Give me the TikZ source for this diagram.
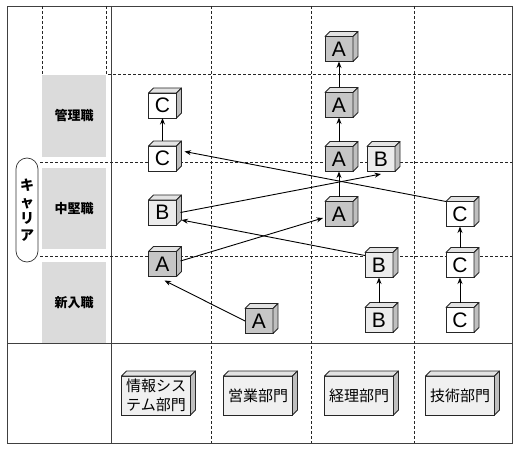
\documentclass[tikz,border=0pt]{standalone}
\usepackage{fontspec}
\setsansfont{Liberation Sans}
\newfontfamily\jp{Noto Sans CJK JP}
\usetikzlibrary{arrows.meta,positioning,calc}

% front face as a node, top and side faces drawn on it
\newcommand{\cubebox}[4]{%
  \node[box, #3] (#1) at (#2) {#4};
  \filldraw[boxtop] (#1.north west) -- ([shift={(5,-5)}]#1.north west) -- ([shift={(5,-5)}]#1.north east) -- (#1.north east) -- cycle;
  \filldraw[boxside] (#1.north east) -- ([shift={(5,-5)}]#1.north east) -- ([shift={(5,-5)}]#1.south east) -- (#1.south east) -- cycle;
}

\begin{document}
\begin{tikzpicture}[x=1pt, y=-1pt,
    frame/.style={draw=black!75, line width=0.9pt},
    grid/.style={draw=black!85, line width=0.65pt, dash pattern=on 3pt off 2pt},
    level/.style={fill=gray!28, minimum width=64pt, inner sep=0pt, font=\jp\bfseries\fontsize{13}{15}\selectfont},
    box/.style={draw=black!85, line width=0.75pt, minimum width=28pt, minimum height=25pt, inner sep=0pt, outer sep=0pt, font=\sffamily\fontsize{21}{21}\selectfont},
    boxtop/.style={draw=black!85, line width=0.75pt, fill=gray!22, line join=round},
    boxside/.style={draw=black!85, line width=0.75pt, fill=gray!50, line join=round},
    grayA/.style={fill=gray!45},
    lightB/.style={fill=gray!15},
    whiteC/.style={fill=white},
    dept/.style={minimum width=69pt, minimum height=39pt, fill=gray!12, align=center, font=\jp\fontsize{15}{18.5}\selectfont},
    arrow/.style={line width=0.9pt, -{Stealth[length=6.5pt, width=5pt]}}]

        \useasboundingbox (0,0) rectangle (520,452);

        % Levels
        \node[level, minimum height=82pt] (manager) at (74,116) {管理職};
        \node[level, minimum height=81pt] (middle) at (74,208.5) {中堅職};
        \node[level, minimum height=81pt] (newhire) at (74,302.5) {新入職};
        \node[draw=black!80, line width=0.7pt, fill=white, rounded corners=11pt, minimum width=22pt, minimum height=104pt, inner sep=0pt, align=center,
              font=\jp\bfseries\fontsize{14}{16.5}\selectfont] (career) at (27,210) {キ\\ャ\\リ\\ア};

        % Frame
        \draw[frame] (7,6) rectangle (512,443);
        \draw[frame] (111,6) -- (111,443);
        \draw[frame] (7,343) -- (512,343);

        % Dashed grid
        \draw[grid] (42,6) -- (42,74);
        \draw[grid] (106,6) -- (106,74) -- (512,74);
        \foreach \y in {162,256} \draw[grid] (40,\y) -- (512,\y);
        \foreach \x in {211,311,414} \draw[grid] (\x,6) -- (\x,443);

        % Information systems
        \cubebox{C_sys_top}{162.5,105.5}{whiteC}{C}
        \cubebox{C_sys_mid}{162.5,158.5}{whiteC}{C}
        \cubebox{B_sys}{162.5,212.5}{lightB}{B}
        \cubebox{A_sys}{162.5,264}{grayA}{A}

        % Sales
        \cubebox{A_sales}{259,321}{grayA}{A}

        % Accounting
        \cubebox{A_acc_4}{339,49}{grayA}{A}
        \cubebox{A_acc_3}{339,105}{grayA}{A}
        \cubebox{A_acc_2}{339,159}{grayA}{A}
        \cubebox{A_acc_1}{339,214}{grayA}{A}
        \cubebox{B_acc_top}{381,159}{lightB}{B}
        \cubebox{B_acc_mid}{379,265}{lightB}{B}
        \cubebox{B_acc_low}{379,320}{lightB}{B}

        % Engineering
        \cubebox{C_tech_top}{460,214}{whiteC}{C}
        \cubebox{C_tech_mid}{460,265}{whiteC}{C}
        \cubebox{C_tech_low}{460,320}{whiteC}{C}

        % Departments
        \cubebox{dept_sys}{156,395.5}{dept}{情報シス\\テム部門}
        \cubebox{dept_sales}{258,395.5}{dept}{営業部門}
        \cubebox{dept_acc}{359,395.5}{dept}{経理部門}
        \cubebox{dept_tech}{460,395.5}{dept}{技術部門}

        % Arrows
        \foreach \from/\to in {C_sys_mid/C_sys_top, A_acc_1/A_acc_2, A_acc_2/A_acc_3, A_acc_3/A_acc_4,
                               B_acc_low/B_acc_mid, C_tech_low/C_tech_mid, C_tech_mid/C_tech_top}
            \draw[arrow] ([yshift=5pt]\from.north) -- (\to.south);

        \draw[arrow] (C_tech_top.north west) -- ([shift={(8,-7)}]C_sys_mid.east);
        \draw[arrow] ([xshift=4pt]B_sys.east) -- ([shift={(0,2.5)}]B_acc_top.south);
        \draw[arrow] ([yshift=-3pt]B_acc_mid.north west) -- ([shift={(5,-5)}]B_sys.south east);
        \draw[arrow] ([shift={(4,-3)}]A_sys.east) -- ([shift={(-2,4)}]A_acc_1.west);
        \draw[arrow] (A_sales.west) -- ([shift={(2,4)}]A_sys.south);

\end{tikzpicture}
\end{document}
